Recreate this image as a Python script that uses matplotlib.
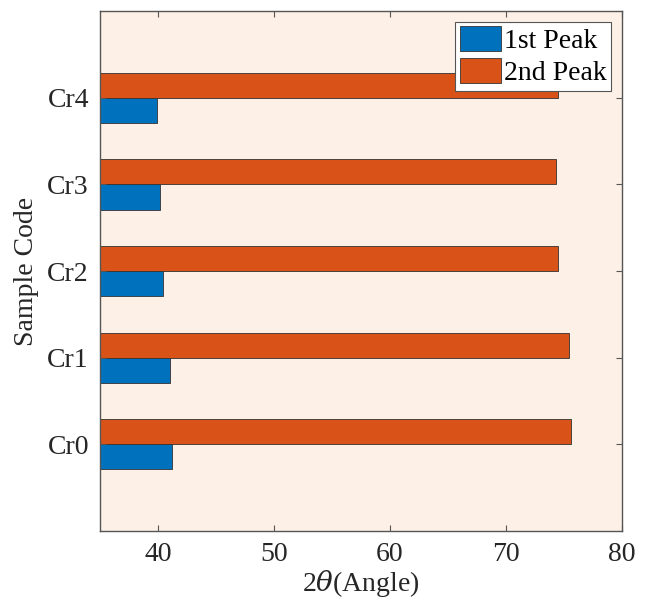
import numpy as np
import matplotlib
matplotlib.use("Agg")
import matplotlib.pyplot as plt

# peak positions (2theta, degrees) per sample
samples = ["Cr0", "Cr1", "Cr2", "Cr3", "Cr4"]
first_peak = [41.2, 41.0, 40.4, 40.2, 39.9]
second_peak = [75.6, 75.4, 74.5, 74.3, 74.5]

plt.rcParams["font.family"] = ["Liberation Serif", "DejaVu Serif"]
plt.rcParams["mathtext.fontset"] = "dejavuserif"

fig = plt.figure(figsize=(6.47, 6.15), dpi=100)
ax = fig.add_axes([0.1546, 0.1366, 0.8068, 0.8454])
ax.set_facecolor("#FDF0E6")

y = np.arange(1, len(samples) + 1)
h = 0.29
ax.barh(y - h / 2, first_peak, height=h, left=0, color="#0072BD",
        edgecolor="#333333", linewidth=0.6, label="1st Peak")
ax.barh(y + h / 2, second_peak, height=h, left=0, color="#D95319",
        edgecolor="#333333", linewidth=0.6, label="2nd Peak")

ax.set_xlim(35, 80)
ax.set_ylim(0, 6)
ax.set_xticks([40, 50, 60, 70, 80])
ax.set_yticks(y)
ax.set_yticklabels(samples)

ax.tick_params(direction="in", top=True, right=True, length=4, width=0.8,
               color="#555555", labelsize=20, labelcolor="#262626", pad=8)
for s in ax.spines.values():
    s.set_color("#555555")
    s.set_linewidth(1.0)

ax.set_xlabel(r"2$\theta$(Angle)", fontsize=20, color="#262626", labelpad=1)
ax.set_ylabel("Sample Code", fontsize=20, color="#262626", labelpad=6)

leg = ax.legend(loc="upper right", fontsize=20, frameon=True, fancybox=False,
                handlelength=1.5, handleheight=1.0, handletextpad=0.1,
                borderpad=0.15, labelspacing=0.15, borderaxespad=0.4)
leg.get_frame().set_edgecolor("#555555")
leg.get_frame().set_linewidth(0.8)
leg.get_frame().set_facecolor("white")
leg.get_frame().set_alpha(1.0)

fig.savefig("out.png", dpi=100)
